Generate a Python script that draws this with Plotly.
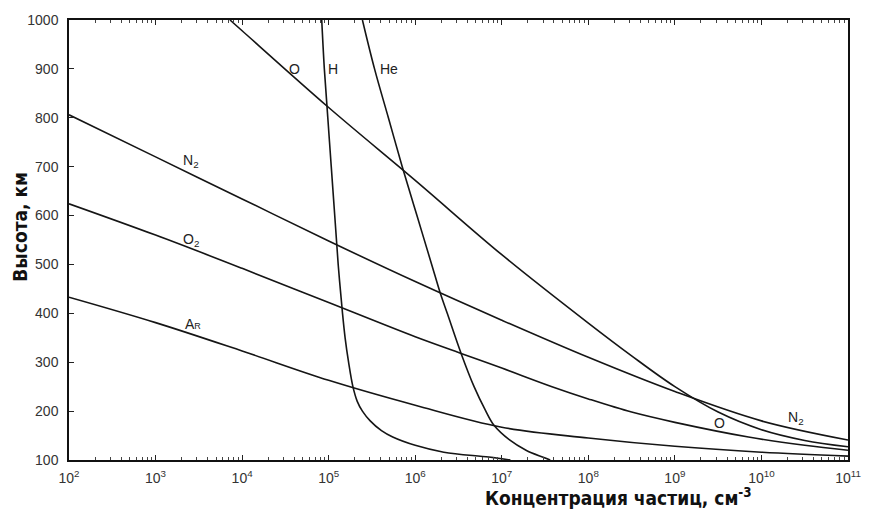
import numpy as np
import plotly.graph_objects as go

# Altitude profiles of atmospheric constituents: altitude (km) vs log10 of number density (cm^-3)
n2_alt = [806, 720, 634, 548, 465, 386, 310, 240, 180, 141]
n2_log = [2.0, 3.0, 4.0, 5.0, 6.0, 7.0, 8.0, 9.0, 10.0, 11.0]

o2_alt = [624, 560, 492, 422, 352, 318, 288, 250, 225, 198, 177, 147, 130, 120]
o2_log = [2.0, 3.0, 4.0, 5.0, 6.0, 6.53, 7.0, 7.58, 8.0, 8.5, 9.0, 9.85, 10.5, 11.0]

ar_alt = [433, 381, 323, 263, 212, 167, 145, 128, 116, 108]
ar_log = [2.0, 3.0, 4.0, 5.0, 6.0, 7.0, 8.0, 9.0, 10.0, 11.0]

o_alt = [1000, 978, 821, 672, 520, 380, 313, 250, 198, 162, 140, 127]
o_log = [3.86, 4.0, 5.0, 6.0, 7.0, 8.0, 8.5, 9.0, 9.5, 10.0, 10.5, 11.0]

h_alt = [1000, 900, 800, 700, 600, 500, 400, 350, 300, 250, 220, 200, 180, 160, 147, 130, 116, 106, 100]
h_log = [4.92, 4.95, 4.99, 5.03, 5.07, 5.11, 5.16, 5.19, 5.23, 5.28, 5.33, 5.39, 5.48, 5.61, 5.74, 6.0, 6.33, 6.85, 7.1]

he_alt = [1000, 900, 800, 700, 600, 500, 441, 400, 318, 250, 202, 171, 141, 120, 106, 100]
he_log = [5.39, 5.53, 5.69, 5.85, 6.02, 6.19, 6.29, 6.37, 6.53, 6.68, 6.81, 6.91, 7.09, 7.28, 7.47, 7.56]

decades = list(range(2, 12))
x_tick_text = [f"10<sup>{d}</sup>" for d in decades]
y_ticks = list(range(100, 1001, 100))

# Curve labels: (text, log10 concentration, altitude)
labels = [
    ("O", 4.60, 900),
    ("H", 5.05, 900),
    ("He", 5.70, 900),
    ("N<sub>2</sub>", 3.41, 712),
    ("O<sub>2</sub>", 3.41, 549),
    ("A<span style='font-size:9px'>R</span>", 3.43, 378),
    ("O", 9.51, 175),
    ("N<sub>2</sub>", 10.40, 186),
]

series = [
    (n2_log, n2_alt),
    (o2_log, o2_alt),
    (ar_log, ar_alt),
    (o_log, o_alt),
    (h_log, h_alt),
    (he_log, he_alt),
]

fig = go.Figure()
for lg, alt in series:
    fig.add_trace(go.Scatter(
        x=10 ** np.array(lg), y=alt, mode="lines",
        line=dict(color="#151515", width=1.6, shape="spline", smoothing=1.0),
        showlegend=False, hoverinfo="skip", cliponaxis=True,
    ))

label_font = dict(family="Liberation Sans, Arial, sans-serif", size=14, color="#222")
for text, lg, alt in labels:
    fig.add_annotation(x=lg, y=alt, text=text, showarrow=False,
                       font=label_font, xanchor="center", yanchor="middle")

minor_vals = [m * 10 ** d for d in range(2, 11) for m in range(2, 10)]

title_font = dict(family="Liberation Sans Narrow, DejaVu Sans Condensed, Arial Narrow, sans-serif",
                  size=19, color="#111", weight="bold")

fig.add_annotation(xref="paper", yref="paper", x=0.705, y=-0.085,
                   text="<b>Концентрация частиц, см<sup>-3</sup></b>",
                   showarrow=False, font=title_font, xanchor="center", yanchor="middle")
fig.add_annotation(xref="paper", yref="paper", x=-0.063, y=0.53,
                   text="<b>Высота, км</b>", textangle=-90,
                   showarrow=False, font=title_font, xanchor="center", yanchor="middle")

tick_font = dict(family="Liberation Sans, Arial, sans-serif", size=14, color="#333")

fig.update_xaxes(
    type="log", range=[2, 11],
    tickmode="array", tickvals=[10 ** d for d in decades], ticktext=x_tick_text,
    ticks="inside", ticklen=5, tickwidth=1, tickcolor="#222",
    minor=dict(tickmode="array", tickvals=minor_vals, ticks="inside", ticklen=3,
               tickcolor="#444", showgrid=False),
    showline=True, linecolor="#111", linewidth=1.5, mirror="ticks",
    showgrid=False, zeroline=False, tickfont=tick_font, ticklabelstandoff=4,
)
fig.update_yaxes(
    range=[100, 1000], tickmode="array", tickvals=y_ticks,
    ticks="inside", ticklen=5, tickwidth=1, tickcolor="#222",
    showline=True, linecolor="#111", linewidth=1.5, mirror=True,
    showgrid=False, zeroline=False, tickfont=tick_font, ticklabelstandoff=6,
)

fig.update_layout(
    width=873, height=526,
    margin=dict(l=69, r=12, t=19, b=66),
    paper_bgcolor="white", plot_bgcolor="white",
)

fig.write_html("out.html")
